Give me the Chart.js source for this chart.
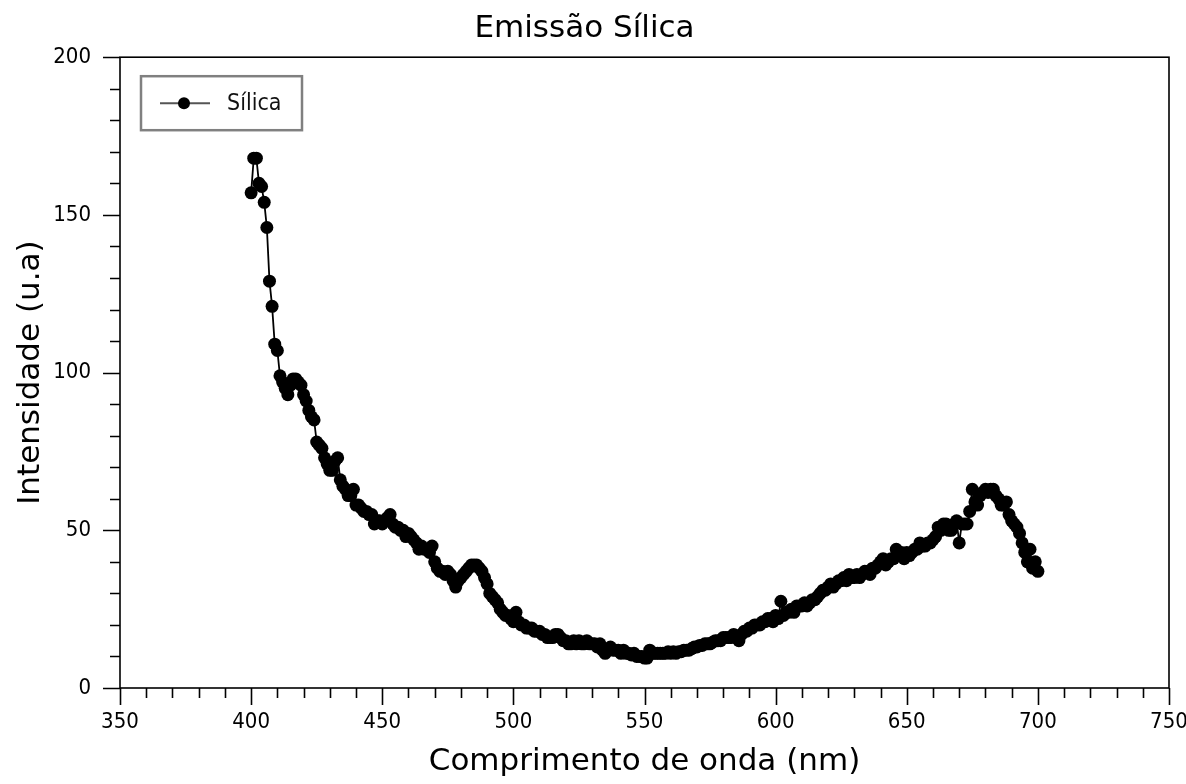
<!DOCTYPE html>
<html>
<head>
<meta charset="utf-8">
<title>Emissão Sílica</title>
<script src="https://cdn.jsdelivr.net/npm/chart.js@4.4.1/dist/chart.umd.min.js"></script>
<style>
    body { margin: 0; background: #fff; }
    #wrap { width: 1186px; height: 784px; }
</style>
</head>
<body>
<div id="wrap"><canvas id="spectrumChart" width="1186" height="784"></canvas></div>
<script>
// wavelength (nm), one reading per nm
const wavelengths = [
    400, 401, 402, 403, 404, 405, 406, 407, 408, 409,
    410, 411, 412, 413, 414, 415, 416, 417, 418, 419,
    420, 421, 422, 423, 424, 425, 426, 427, 428, 429,
    430, 431, 432, 433, 434, 435, 436, 437, 438, 439,
    440, 441, 442, 443, 444, 445, 446, 447, 448, 449,
    450, 451, 452, 453, 454, 455, 456, 457, 458, 459,
    460, 461, 462, 463, 464, 465, 466, 467, 468, 469,
    470, 471, 472, 473, 474, 475, 476, 477, 478, 479,
    480, 481, 482, 483, 484, 485, 486, 487, 488, 489,
    490, 491, 492, 493, 494, 495, 496, 497, 498, 499,
    500, 501, 502, 503, 504, 505, 506, 507, 508, 509,
    510, 511, 512, 513, 514, 515, 516, 517, 518, 519,
    520, 521, 522, 523, 524, 525, 526, 527, 528, 529,
    530, 531, 532, 533, 534, 535, 536, 537, 538, 539,
    540, 541, 542, 543, 544, 545, 546, 547, 548, 549,
    550, 551, 552, 553, 554, 555, 556, 557, 558, 559,
    560, 561, 562, 563, 564, 565, 566, 567, 568, 569,
    570, 571, 572, 573, 574, 575, 576, 577, 578, 579,
    580, 581, 582, 583, 584, 585, 586, 587, 588, 589,
    590, 591, 592, 593, 594, 595, 596, 597, 598, 599,
    600, 601, 602, 603, 604, 605, 606, 607, 608, 609,
    610, 611, 612, 613, 614, 615, 616, 617, 618, 619,
    620, 621, 622, 623, 624, 625, 626, 627, 628, 629,
    630, 631, 632, 633, 634, 635, 636, 637, 638, 639,
    640, 641, 642, 643, 644, 645, 646, 647, 648, 649,
    650, 651, 652, 653, 654, 655, 656, 657, 658, 659,
    660, 661, 662, 663, 664, 665, 666, 667, 668, 669,
    670, 671, 672, 673, 674, 675, 676, 677, 678, 679,
    680, 681, 682, 683, 684, 685, 686, 687, 688, 689,
    690, 691, 692, 693, 694, 695, 696, 697, 698, 699,
    700
];

// emission intensity (u.a)
const silicaIntensity = [
    157, 168, 168, 160, 159, 154, 146, 129, 121, 109,
    107, 99, 97, 95, 93, 96, 98, 98, 97, 96,
    93, 91, 88, 86, 85, 78, 77, 76, 73, 71,
    69, 69, 72, 73, 66, 64, 63, 61, 61, 63,
    58, 58, 57, 56, 56, 55, 55, 52, 53, 53,
    52, 53, 54, 55, 52, 51, 51, 50, 50, 48,
    49, 48, 47, 46, 44, 45, 44, 44, 43, 45,
    40, 38, 37, 37, 36, 37, 36, 34, 32, 34,
    35, 36, 37, 38, 39, 39, 39, 38, 37, 35,
    33, 30, 29, 28, 27, 25, 24, 23, 23, 22,
    21, 24, 21, 20, 20, 19, 19, 19, 18, 18,
    18, 17, 17, 16, 16, 16, 17, 17, 16, 15,
    15, 14, 14, 15, 14, 15, 14, 14, 15, 14,
    14, 14, 13, 14, 12, 11, 12, 13, 12, 12,
    12, 11, 12, 11, 11, 10.5, 11, 10, 10, 10,
    9.5, 9.5, 12, 11, 11, 11, 11, 11, 11, 11.5,
    11, 11.5, 11, 11.5, 11.5, 12, 12, 12, 12.5, 13,
    13, 13.5, 13.5, 14, 14, 14, 14.5, 15, 15, 15,
    16, 16, 16, 16, 17, 16, 15, 17, 18, 18,
    19, 19, 20, 20, 20, 21, 21, 22, 22, 21,
    23, 22, 27.5, 23, 24, 24, 25, 24, 26, 26,
    26, 27, 26, 27, 28, 28, 29, 30, 31, 31,
    32, 33, 32, 33, 34, 34, 35, 34, 36, 35,
    35, 36, 35, 36, 37, 37, 36, 38, 38, 39,
    40, 41, 39, 40, 41, 41, 44, 42, 43, 41,
    43, 42, 43, 44, 44, 46, 45, 45, 46, 46,
    47, 48, 51, 50, 52, 52, 50, 50, 52, 53,
    46, 52, 52, 52, 56, 63, 59, 58, 61, 62,
    63, 62, 63, 63, 61, 60, 58, 58, 59, 55,
    53, 52, 51, 49, 46, 43, 40, 44, 38, 40,
    37
];

const xTickLabels = [350, 400, 450, 500, 550, 600, 650, 700, 750];
const yTickLabels = [0, 50, 100, 150, 200];
const minorStep = 10;

const FONT = "'DejaVu Sans', sans-serif";
const TICK_FONT = "'DejaVu Sans Condensed', 'DejaVu Sans', sans-serif";

// tick marks (long on labelled values, short in between), plot frame and legend box
const framePlugin = {
    id: 'frame',
    afterDraw(chart) {
        const { ctx, chartArea: a, scales: { x, y } } = chart;
        ctx.save();
        ctx.strokeStyle = '#000';
        ctx.lineWidth = 1.6;
        ctx.beginPath();
        for (let v = x.min; v <= x.max; v += minorStep) {
            const px = Math.round(x.getPixelForValue(v)) + 0.5;
            const len = xTickLabels.includes(v) ? 17 : 10;
            ctx.moveTo(px, a.bottom);
            ctx.lineTo(px, a.bottom + len);
        }
        for (let v = y.min; v <= y.max; v += minorStep) {
            const py = Math.round(y.getPixelForValue(v)) + 0.5;
            const len = yTickLabels.includes(v) ? 17 : 10;
            ctx.moveTo(a.left, py);
            ctx.lineTo(a.left - len, py);
        }
        ctx.stroke();
        ctx.strokeRect(a.left, a.top, a.right - a.left, a.bottom - a.top);

        // legend
        const ds = chart.data.datasets[0];
        const lx = a.left + 21, ly = a.top + 19;
        ctx.strokeStyle = '#808080';
        ctx.lineWidth = 2.5;
        ctx.strokeRect(lx, ly, 161, 54);
        ctx.strokeStyle = '#555';
        ctx.lineWidth = 2;
        ctx.beginPath();
        ctx.moveTo(lx + 19, ly + 27);
        ctx.lineTo(lx + 69, ly + 27);
        ctx.stroke();
        ctx.fillStyle = ds.pointBackgroundColor;
        ctx.beginPath();
        ctx.arc(lx + 43, ly + 27, 6, 0, Math.PI * 2);
        ctx.fill();
        ctx.fillStyle = '#111';
        ctx.font = '23px ' + TICK_FONT;
        ctx.textBaseline = 'middle';
        ctx.fillText(ds.label, lx + 86, ly + 28);
        ctx.restore();
    }
};

const ctx = document.getElementById('spectrumChart').getContext('2d');

new Chart(ctx, {
    type: 'scatter',
    data: {
        datasets: [{
            label: 'Sílica',
            data: wavelengths.map((w, i) => ({ x: w, y: silicaIntensity[i] })),
            showLine: true,
            borderColor: '#000',
            borderWidth: 1.8,
            pointRadius: 6.5,
            pointBackgroundColor: '#000',
            pointBorderColor: '#000',
            pointBorderWidth: 0
        }]
    },
    options: {
        responsive: false,
        animation: false,
        layout: { padding: { top: 0, left: 0, right: 17, bottom: 0 } },
        plugins: {
            legend: { display: false },
            tooltip: { enabled: false },
            title: {
                display: true,
                text: 'Emissão Sílica',
                color: '#000',
                font: { family: FONT, size: 31, weight: 'normal' },
                padding: { top: 10, bottom: 10 }
            }
        },
        scales: {
            x: {
                type: 'linear',
                min: 350,
                max: 750,
                afterBuildTicks: (scale) => { scale.ticks = xTickLabels.map(v => ({ value: v })); },
                afterFit: (scale) => {
                    scale.height = 96;
                    scale.paddingLeft = 0;
                    scale.paddingRight = 0;
                },
                grid: { display: false, drawTicks: false },
                border: { display: false },
                ticks: {
                    color: '#000',
                    font: { family: TICK_FONT, size: 22 },
                    padding: 21,
                    maxRotation: 0
                },
                title: {
                    display: true,
                    text: 'Comprimento de onda (nm)',
                    color: '#000',
                    font: { family: FONT, size: 31 },
                    padding: { top: 0, bottom: 3 }
                }
            },
            y: {
                type: 'linear',
                min: 0,
                max: 200,
                afterBuildTicks: (scale) => { scale.ticks = yTickLabels.map(v => ({ value: v })); },
                afterFit: (scale) => { scale.width = 120; },
                grid: { display: false, drawTicks: false },
                border: { display: false },
                ticks: {
                    color: '#000',
                    font: { family: TICK_FONT, size: 22 },
                    padding: 29
                },
                title: {
                    display: true,
                    text: 'Intensidade (u.a)',
                    color: '#000',
                    font: { family: FONT, size: 31 },
                    padding: { top: 12, bottom: 0 }
                }
            }
        }
    },
    plugins: [framePlugin]
});
</script>
</body>
</html>
